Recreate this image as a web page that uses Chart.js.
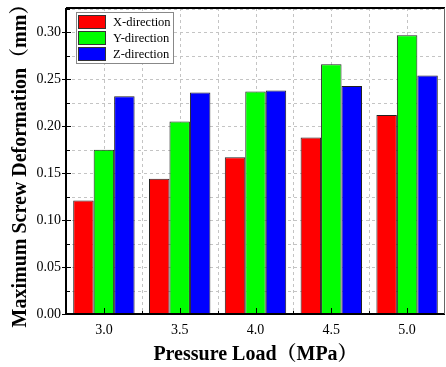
<!DOCTYPE html>
<html>
<head>
<meta charset="utf-8">
<script src="https://cdn.jsdelivr.net/npm/chart.js@4/dist/chart.umd.min.js"></script>
<style>
html,body{margin:0;padding:0;background:#fff;}
#wrap{width:446px;height:367px;}
</style>
</head>
<body>
<div id="wrap"><canvas id="c" width="446" height="367"></canvas></div>
<script>
const categories = ['3.0', '3.5', '4.0', '4.5', '5.0'];
const seriesNames = ['X-direction', 'Y-direction', 'Z-direction'];
const xDirection = [0.121, 0.144, 0.167, 0.188, 0.212];
const yDirection = [0.175, 0.205, 0.237, 0.266, 0.297];
const zDirection = [0.232, 0.236, 0.238, 0.243, 0.254];
const seriesColors = ['#ff0000', '#00ff00', '#0000ff'];
const yTickStep = 0.025;
const yMin = 0, yMax = 0.326;
const xTitle = 'Pressure Load（MPa）';
const yTitle = 'Maximum Screw Deformation（mm）';

const FONT = "'Liberation Serif', 'Times New Roman', 'Noto Serif CJK SC', 'Noto Sans CJK SC', serif";

const gridPlugin = {
  id: 'gridPlugin',
  beforeDatasetsDraw(chart) {
    const {ctx, chartArea: a, scales: {x, y}} = chart;
    ctx.save();
    ctx.strokeStyle = '#c4c4c4';
    ctx.lineWidth = 1;
    ctx.setLineDash([3, 3]);
    for (let v = yMin + yTickStep; v < yMax - 1e-9; v += yTickStep) {
      const py = Math.round(y.getPixelForValue(v)) + 0.5;
      ctx.beginPath(); ctx.moveTo(a.left, py); ctx.lineTo(a.right, py); ctx.stroke();
    }
    for (let i = 0; i < categories.length; i++) {
      [i, i + 0.5].forEach(v => {
        if (v >= categories.length - 0.5) return;
        const px = Math.round(x.getPixelForValue(v)) + 0.5;
        ctx.beginPath(); ctx.moveTo(px, a.top); ctx.lineTo(px, a.bottom); ctx.stroke();
      });
    }
    ctx.restore();
  },
  afterDatasetsDraw(chart) {
    const {ctx, chartArea: a, scales: {x, y}} = chart;
    ctx.save();
    ctx.strokeStyle = '#000';
    ctx.setLineDash([]);
    ctx.lineWidth = 1;
    for (let v = yMin; v <= yMax + 1e-9; v += yTickStep) {
      const py = Math.round(y.getPixelForValue(v)) + 0.5;
      const major = Math.abs(v / 0.05 - Math.round(v / 0.05)) < 1e-6;
      ctx.beginPath();
      ctx.moveTo(a.left - (major ? 4 : 0), py);
      ctx.lineTo(a.left + (major ? 5 : 4), py);
      ctx.stroke();
    }
    for (let i = 0; i < categories.length; i++) {
      let px = Math.round(x.getPixelForValue(i)) + 0.5;
      ctx.beginPath(); ctx.moveTo(px, a.bottom); ctx.lineTo(px, a.bottom - 6); ctx.stroke();
      if (i < categories.length - 1) {
        px = Math.round(x.getPixelForValue(i + 0.5)) + 0.5;
        ctx.beginPath(); ctx.moveTo(px, a.bottom); ctx.lineTo(px, a.bottom - 3); ctx.stroke();
      }
    }
    ctx.lineWidth = 2;
    ctx.beginPath();
    ctx.moveTo(a.left, a.top); ctx.lineTo(a.right, a.top);
    ctx.moveTo(a.left, a.top); ctx.lineTo(a.left, a.bottom);
    ctx.moveTo(a.left - 1, a.bottom); ctx.lineTo(a.right, a.bottom);
    ctx.stroke();
    ctx.lineWidth = 1;
    ctx.strokeStyle = '#666';
    ctx.beginPath(); ctx.moveTo(a.right - 0.5, a.top); ctx.lineTo(a.right - 0.5, a.bottom); ctx.stroke();

    const lx = a.left + 10, ly = a.top + 4, lw = 97, lh = 51;
    ctx.fillStyle = '#fff';
    ctx.fillRect(lx, ly, lw, lh);
    ctx.strokeStyle = '#888';
    ctx.lineWidth = 1;
    ctx.strokeRect(lx + 0.5, ly + 0.5, lw, lh);
    ctx.font = '12.5px ' + FONT;
    ctx.textBaseline = 'middle';
    ctx.textAlign = 'left';
    chart.data.datasets.forEach((ds, i) => {
      const sy = ly + 3 + i * 16;
      ctx.fillStyle = ds.backgroundColor;
      ctx.fillRect(lx + 2, sy, 28, 14);
      ctx.strokeStyle = '#333';
      ctx.strokeRect(lx + 2.5, sy + 0.5, 27, 13);
      ctx.fillStyle = '#000';
      ctx.fillText(ds.label, lx + 37, sy + 7.5);
    });
    ctx.restore();
  }
};

new Chart(document.getElementById('c'), {
  type: 'bar',
  data: {
    labels: categories,
    datasets: [
      {label: seriesNames[0], data: xDirection, backgroundColor: seriesColors[0]},
      {label: seriesNames[1], data: yDirection, backgroundColor: seriesColors[1]},
      {label: seriesNames[2], data: zDirection, backgroundColor: seriesColors[2]}
    ].map(d => Object.assign(d, {borderColor: '#222', borderWidth: 1, categoryPercentage: 0.81, barPercentage: 1}))
  },
  options: {
    responsive: false,
    animation: false,
    devicePixelRatio: 1,
    layout: {padding: {top: 8, right: 1, left: 0, bottom: 0}},
    plugins: {legend: {display: false}, tooltip: {enabled: false}},
    scales: {
      x: {
        grid: {display: false, drawTicks: false},
        border: {display: false},
        ticks: {color: '#000', font: {family: FONT, size: 14}, padding: 8, maxRotation: 0},
        title: {display: true, text: xTitle, color: '#000', font: {family: FONT, size: 20, weight: 'bold'}, padding: {top: 0, bottom: 0}},
        afterFit(s) { s.height = 53; s.paddingLeft = 0; s.paddingRight = 0; }
      },
      y: {
        min: yMin, max: yMax,
        grid: {display: false, drawTicks: false},
        border: {display: false},
        ticks: {
          stepSize: yTickStep, includeBounds: false, color: '#000', padding: 5,
          font: {family: FONT, size: 14},
          callback: v => (Math.abs(v / 0.05 - Math.round(v / 0.05)) < 1e-6 ? v.toFixed(2) : '')
        },
        title: {display: true, text: yTitle, color: '#000', font: {family: FONT, size: 20, weight: 'bold'}, padding: {top: 9, bottom: 0}},
        afterFit(s) { s.width = 66; s.paddingTop = 0; s.paddingBottom = 0; }
      }
    }
  },
  plugins: [gridPlugin]
});
</script>
</body>
</html>
